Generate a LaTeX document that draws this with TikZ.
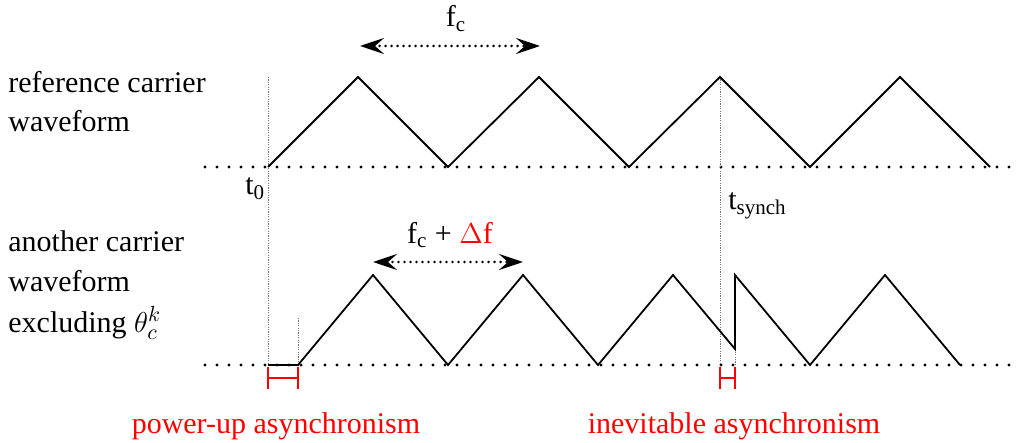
\documentclass[tikz,border=0pt]{standalone}
\usepackage{fontspec}
\setmainfont{Liberation Serif}
\usetikzlibrary{arrows.meta}
\tikzset{
  axisdots/.style={line width=1.7pt, line cap=round, dash pattern=on 0pt off 6pt},
  wave/.style    ={line width=0.9pt, draw=black},
  guide/.style   ={line width=0.5pt, draw=black!55, dash pattern=on 0.6pt off 0.6pt},
  period/.style  ={{Stealth[length=12pt,width=8pt,inset=4.5pt]}-{Stealth[length=12pt,width=8pt,inset=4.5pt]},
                   line width=1.4pt, line cap=round, dash pattern=on 0pt off 3pt},
  lbl/.style     ={font=\fontsize{15}{19.5}\selectfont, inner sep=0pt, align=left},
  asyn/.style    ={line width=1.2pt, draw=red},
}
\begin{document}
\begin{tikzpicture}[x=0.5pt, y=-0.5pt]
\useasboundingbox (0,0) rectangle (1022,443);

% time axes
\coordinate (ta0) at (205,167); \coordinate (ta1) at (1020,167);
\coordinate (tb0) at (205,365); \coordinate (tb1) at (1020,365);
\draw[axisdots] (ta0) -- (ta1);
\draw[axisdots] (tb0) -- (tb1);

% instants
\coordinate (t0) at (268,167);
\coordinate (ts) at (720,167);
\draw[guide] (268,77) -- (268,365);
\draw[guide] (720,77) -- (720,365);
\draw[guide] (298,318) -- (298,365);
\draw[guide] (735,347) -- (735,365);

% reference carrier
\draw[wave] (t0) -- (358,77) -- (448,167) -- (539,77) -- (629,167)
  -- (720,77) -- (810,167) -- (900,77) -- (990,167);

% another carrier
\draw[wave] (268,365) -- (298,365) -- (373,275) -- (448,365) -- (523,275)
  -- (598,365) -- (673,275) -- (735,349) -- (735,275) -- (810,365)
  -- (885,275) -- (960,365);

% periods
\coordinate (pa0) at (360,46); \coordinate (pa1) at (540,46);
\coordinate (pb0) at (373,262); \coordinate (pb1) at (523,262);
\draw[period] (pa0) -- (pa1);
\draw[period] (pb0) -- (pb1);

% asynchronism marks
\draw[asyn] (268,367) -- (268,389) (298,367) -- (298,389) (268,378) -- (298,378);
\draw[asyn] (720,367) -- (720,389) (735,367) -- (735,389) (720,378) -- (735,378);

\node[lbl, anchor=base west] (refw) at (8,132) {reference carrier\\waveform};
\node[lbl, anchor=base west] (anow) at (8,332) {another carrier\\[0.5pt]waveform\\[1pt]excluding $\theta_c^k$};
\node[lbl, anchor=base] (fc) at (456,27) {f\textsubscript{c}};
\node[lbl, anchor=base] (fcd) at (450,243) {f\textsubscript{c} + \textcolor{red}{$\Delta$f}};
\node[lbl, anchor=base west] (lt0) at (245,195) {t\textsubscript{0}};
\node[lbl, anchor=base west] (lts) at (728,210) {t\textsubscript{synch}};
\node[lbl, anchor=base, text=red] (pua) at (276,433) {power-up asynchronism};
\node[lbl, anchor=base, text=red] (ina) at (734,433) {inevitable asynchronism};
\end{tikzpicture}
\end{document}
